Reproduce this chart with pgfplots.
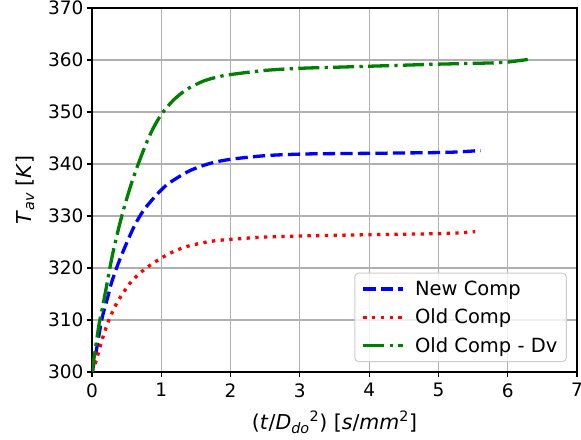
\documentclass[border=0pt]{standalone}
\usepackage{fontspec}
\setmainfont{DejaVu Sans}
\usepackage{pgfplots}
\pgfplotsset{compat=1.18}
\definecolor{gridgray}{HTML}{B0B0B0}
\definecolor{mplgreen}{rgb}{0,0.5,0}
\begin{document}
\begin{tikzpicture}
\begin{axis}[
  scale only axis,
  width=485bp, height=364bp,
  xmin=0, xmax=7, ymin=300, ymax=370,
  xtick={0,1,...,7},
  ytick={300,310,...,370},
  grid=major,
  major grid style={gridgray, line width=1.1bp},
  axis line style={black, line width=1.1bp},
  tick align=outside,
  major tick length=5bp,
  tick style={black, line width=1.1bp},
  xtick pos=bottom, ytick pos=left,
  /pgf/number format/assume math mode=true,
  ticklabel style={font=\fontsize{18.5bp}{22bp}\selectfont},
  xticklabel style={yshift=-3bp},
  label style={font=\fontsize{20.5bp}{24bp}\selectfont},
  xlabel style={yshift=-7bp},
  ylabel style={yshift=7bp},
  xlabel={(\textit{t}/\textit{D}\textsubscript{\textit{do}}\textsuperscript{2}) [\textit{s}/\textit{mm}\textsuperscript{2}]},
  ylabel={\textit{T}\textsubscript{\textit{av}} [\textit{K}]},
  legend style={at={(0.979,0.027)}, anchor=south east,
    draw=black!20, line width=1bp, rounded corners=4bp,
    fill=white, fill opacity=0.8, text opacity=1,
    font=\fontsize{19.5bp}{23bp}\selectfont,
    inner xsep=7bp, inner ysep=6bp, row sep=8bp, column sep=8bp,
    cells={anchor=west}},
  legend image code/.code={\draw[#1] (0bp,0bp) -- (40bp,0bp);},
  every axis plot/.append style={line width=3.3bp, line cap=butt},
]
\addplot[blue, dash pattern=on 12.2bp off 5.3bp, smooth, tension=0.5] coordinates {
(0,300) (0.043,302.6) (0.14,310) (0.23,314.5) (0.28,317.1) (0.38,320.9)
(0.5,324.8) (0.62,328.3) (0.74,331.0) (0.88,333.3) (1.0,335.0) (1.12,336.4)
(1.41,338.7) (1.7,340.1) (2.0,340.9) (2.5,341.6) (3.0,341.9) (3.5,342.0)
(4.0,342.05) (4.5,342.12) (5.0,342.2) (5.3,342.33) (5.61,342.6)
};
\addlegendentry{New Comp}
\addplot[red, dash pattern=on 3.3bp off 5.4bp, smooth, tension=0.5] coordinates {
(0,300) (0.04,301.3) (0.09,303.6) (0.16,306.8) (0.235,309.7) (0.28,311.1)
(0.36,313.3) (0.45,315.2) (0.55,317.1) (0.69,319.0) (0.88,320.9) (1.12,322.8)
(1.36,324.1) (1.7,325.1) (2.0,325.5) (2.5,325.95) (3.0,326.15) (3.5,326.28)
(4.0,326.4) (4.5,326.5) (5.0,326.6) (5.3,326.75) (5.53,327.0)
};
\addlegendentry{Old Comp}
\addplot[mplgreen, dash pattern=on 21bp off 5.3bp on 3.3bp off 5.3bp, smooth, tension=0.5] coordinates {
(0,300) (0.05,304.5) (0.1,309) (0.15,312.3) (0.2,315.8) (0.3,322.8)
(0.43,330) (0.57,336.3) (0.69,340.8) (0.8,344.5) (0.9,347.3) (1.0,349.5)
(1.1,351.2) (1.2,352.6) (1.3,353.7) (1.4,354.6) (1.6,355.9) (1.8,356.7)
(2.0,357.2) (2.5,358.0) (3.0,358.4) (3.5,358.6) (4.0,358.8) (4.5,359.0)
(5.0,359.2) (5.5,359.35) (5.8,359.45) (6.0,359.6) (6.15,359.85) (6.29,360.1)
};
\addlegendentry{Old Comp - Dv}
\end{axis}
\pgfresetboundingbox
\path[use as bounding box] ([xshift=-92bp,yshift=-68bp]current axis.south west) rectangle ([xshift=4bp,yshift=8bp]current axis.north east);
\end{tikzpicture}
\end{document}
